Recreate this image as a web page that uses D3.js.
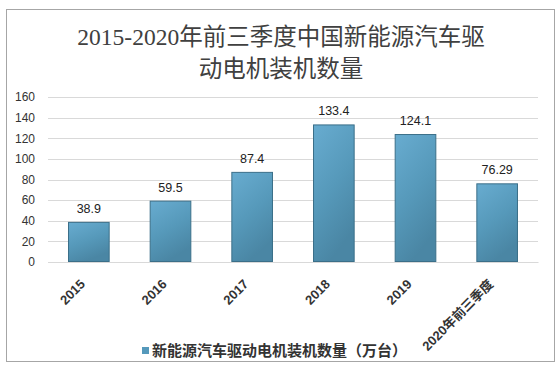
<!DOCTYPE html>
<html>
<head>
<meta charset="utf-8">
<script src="https://cdn.jsdelivr.net/npm/d3@7"></script>
<style>
  body { margin: 0; background: #fff; }
  svg { display: block; }
</style>
</head>
<body>
<svg id="chart" width="558" height="376"></svg>
<script>
// datos
const categorias = ["2015", "2016", "2017", "2018", "2019", "2020年前三季度"];
const valores = [38.9, 59.5, 87.4, 133.4, 124.1, 76.29];
const etiquetas = ["38.9", "59.5", "87.4", "133.4", "124.1", "76.29"];
const ticksY = [0, 20, 40, 60, 80, 100, 120, 140, 160];
const titulo = ["2015-2020年前三季度中国新能源汽车驱", "动电机装机数量"];
const leyendaTexto = "新能源汽车驱动电机装机数量（万台）";

const svg = d3.select("#chart");
const width = 558, height = 376;

// marco
svg.append("rect")
    .attr("x", 6.5).attr("y", 9.5)
    .attr("width", 548).attr("height", 352)
    .attr("fill", "#fff")
    .attr("stroke", "#a6a6a6");

// gradiente de las barras
const defs = svg.append("defs");
const grad = defs.append("linearGradient")
    .attr("id", "gradBarra")
    .attr("x1", "0").attr("y1", "0").attr("x2", "0.4").attr("y2", "1");
grad.append("stop").attr("offset", "0%").attr("stop-color", "#68acd0");
grad.append("stop").attr("offset", "55%").attr("stop-color", "#5699ba");
grad.append("stop").attr("offset", "100%").attr("stop-color", "#4a86a4");

// titulo
svg.append("g").selectAll("text")
    .data(titulo)
    .join("text")
    .attr("x", 281)
    .attr("y", (d, i) => 45 + i * 32)
    .attr("text-anchor", "middle")
    .style("font-family", "'Liberation Serif', 'Noto Sans CJK SC', serif")
    .style("font-size", "23.5px")
    .style("fill", "#404040")
    .text(d => d);

const x = d3.scaleBand()
    .domain(categorias)
    .range([48, 538])
    .paddingInner(0.49)
    .paddingOuter(0.245);

const y = d3.scaleLinear()
    .domain([0, 160])
    .range([262, 97]);

// lineas de cuadricula
svg.append("g").selectAll("line")
    .data(ticksY)
    .join("line")
    .attr("x1", 48).attr("x2", 538)
    .attr("y1", d => Math.round(y(d)) + 0.5)
    .attr("y2", d => Math.round(y(d)) + 0.5)
    .attr("stroke", "#d9d9d9");

// eje Y
const ejeY = svg.append("g")
    .attr("transform", "translate(48,0)")
    .call(d3.axisLeft(y).tickValues(ticksY).tickSize(0).tickPadding(13));
ejeY.select(".domain").remove();
ejeY.selectAll("text")
    .style("font-family", "'Liberation Sans', Arial, sans-serif")
    .style("font-size", "12px")
    .style("fill", "#333");

// barras
svg.append("g").selectAll("rect")
    .data(valores)
    .join("rect")
    .attr("x", (d, i) => x(categorias[i]) + 0.5)
    .attr("y", d => y(d) + 0.5)
    .attr("width", x.bandwidth() - 1)
    .attr("height", d => y(0) - y(d) - 1)
    .attr("fill", "url(#gradBarra)")
    .attr("stroke", "#3b6f89")
    .attr("stroke-width", 1);

// etiquetas de valor
svg.append("g").selectAll("text")
    .data(valores)
    .join("text")
    .attr("x", (d, i) => x(categorias[i]) + x.bandwidth() / 2)
    .attr("y", d => y(d) - 9)
    .attr("text-anchor", "middle")
    .style("font-family", "'Liberation Sans', Arial, sans-serif")
    .style("font-size", "12.5px")
    .style("fill", "#222")
    .text((d, i) => etiquetas[i]);

// eje X
const ejeX = svg.append("g")
    .attr("transform", `translate(0,${y(0)})`)
    .call(d3.axisBottom(x).tickSize(0).tickFormat(""));
ejeX.select(".domain").attr("stroke", "#d9d9d9");

svg.append("g").selectAll("text")
    .data(categorias)
    .join("text")
    .attr("transform", d => `translate(${x(d) + x.bandwidth() / 2 - 3},285) rotate(-45)`)
    .attr("text-anchor", "end")
    .style("font-family", "'Liberation Sans', 'Noto Sans CJK SC', sans-serif")
    .style("font-size", "13px")
    .style("font-weight", "bold")
    .style("fill", "#333")
    .text(d => d);

// leyenda
const leyenda = svg.append("g").attr("transform", "translate(142,347)");
leyenda.append("rect")
    .attr("width", 7).attr("height", 7)
    .attr("fill", "#5599bb");
leyenda.append("text")
    .attr("x", 10)
    .attr("y", 9)
    .style("font-family", "'Noto Sans CJK SC', sans-serif")
    .style("font-size", "15px")
    .style("font-weight", "bold")
    .style("fill", "#333")
    .text(leyendaTexto);
</script>
</body>
</html>
